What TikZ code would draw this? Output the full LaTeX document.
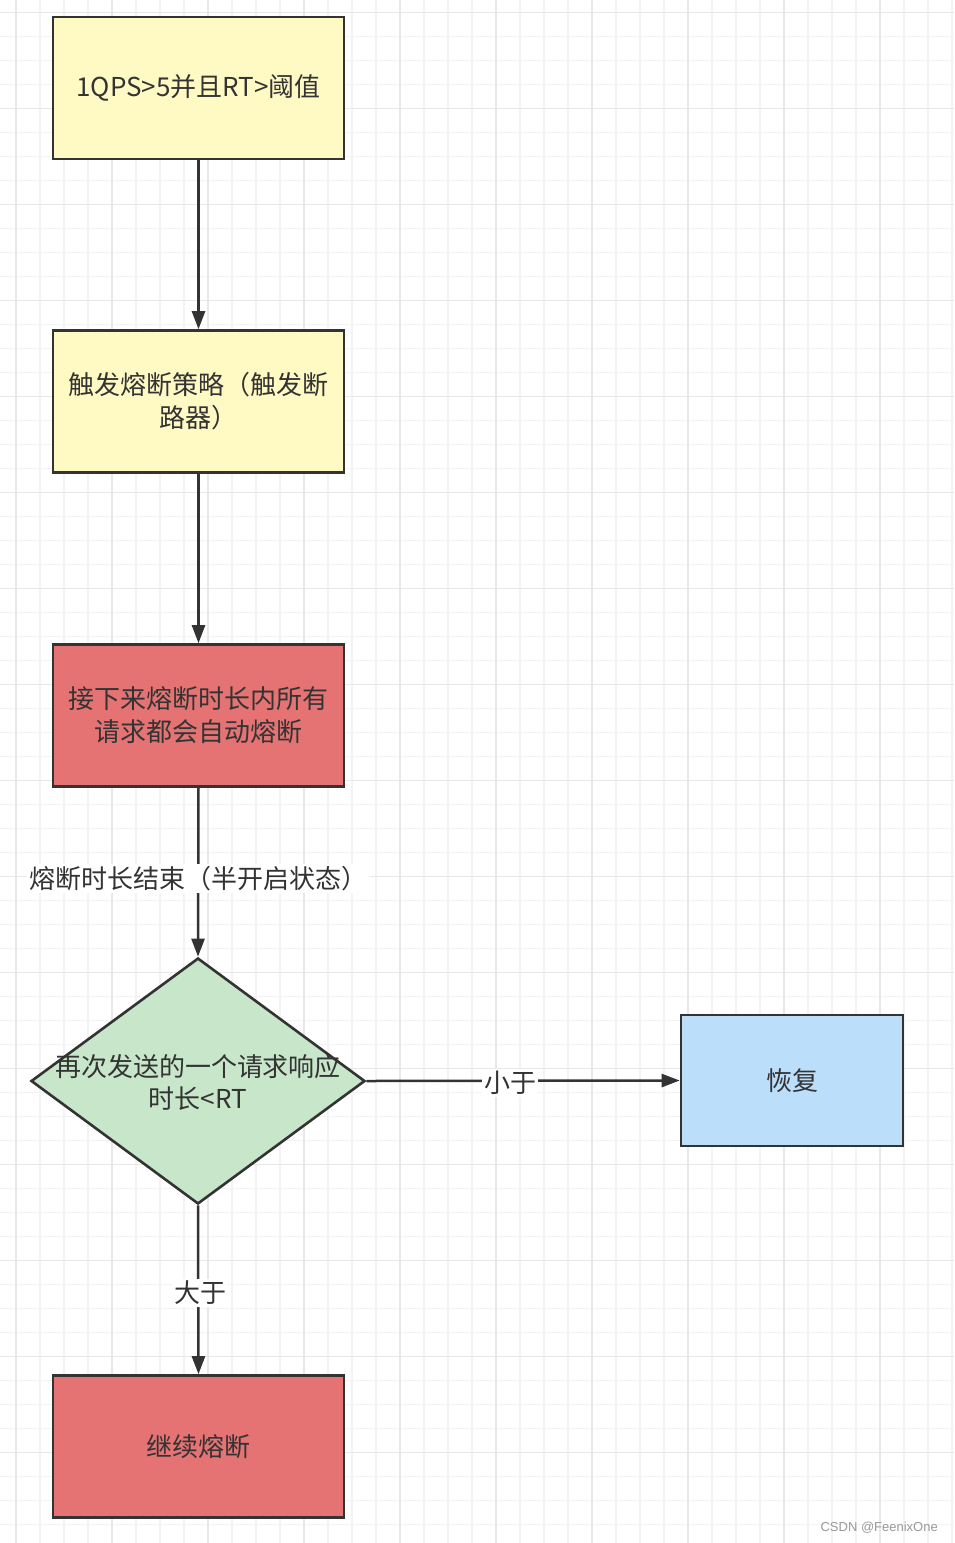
\documentclass[tikz,border=0pt]{standalone}
\usepackage{fontspec}
\setmainfont{Noto Sans CJK SC}
\newfontfamily\wmfont{Liberation Sans}
\usetikzlibrary{shapes.geometric,arrows.meta}
\definecolor{strk}{HTML}{333333}
\definecolor{yel}{HTML}{FFF9C4}
\definecolor{redc}{HTML}{E57373}
\definecolor{grn}{HTML}{C8E6C9}
\definecolor{blu}{HTML}{BBDEFB}
\definecolor{gridl}{HTML}{F3F3F3}
\definecolor{gridd}{HTML}{E8E8E8}
\tikzset{
  gridlight/.style={draw=gridl,line width=1.1pt},
  griddark/.style={draw=gridd,line width=1.5pt},
  boxnode/.style={draw=strk,line width=2.6pt,minimum width=291pt,minimum height=142pt,inner sep=0pt,align=center,text=strk,font=\fontsize{26pt}{33pt}\selectfont},
  dia/.style={draw=strk,fill=grn,line width=2.6pt,diamond,minimum width=334pt,minimum height=246pt,inner sep=0pt},
  txt/.style={align=center,text=strk,font=\fontsize{26pt}{32pt}\selectfont,inner sep=0pt},
  conn/.style={draw=strk,line width=2.5pt,-{Triangle[length=18pt,width=13pt]}},
  lbl/.style={fill=white,text=strk,inner sep=2pt,font=\fontsize{26pt}{33pt}\selectfont}
}
\begin{document}
\begin{tikzpicture}[x=1pt,y=-1pt]
\useasboundingbox (0,0) rectangle (954,1543);
\fill[white] (0,0) rectangle (954,1543);
% grid
\foreach \i in {0,...,39} {
  \pgfmathsetmacro\xx{16+24*\i}
  \draw[gridlight] (\xx,0) -- (\xx,1543);
}
\foreach \i in {0,...,63} {
  \pgfmathsetmacro\yy{12.7+24*\i}
  \draw[gridlight] (0,\yy) -- (954,\yy);
}
\foreach \xx in {16,112,208,304,400,496,592,688,784,880} {
  \draw[griddark] (\xx,0) -- (\xx,1543);
}
\foreach \i in {0,...,15} {
  \pgfmathsetmacro\yy{12.7+96*\i}
  \draw[griddark] (0,\yy) -- (954,\yy);
}
% nodes
\node[boxnode,fill=yel] (b1) at (198.5,88) {1QPS>5并且RT>阈值};
\node[boxnode,fill=yel] (b2) at (198.5,401.5) {触发熔断策略（触发断\\路器）};
\node[boxnode,fill=redc] (b3) at (198.5,715.5) {接下来熔断时长内所有\\请求都会自动熔断};
\node[dia] (d) at (198,1081) {};
\node[txt] (dt) at (198,1082) {再次发送的一个请求响应\\时长<RT};
\node[boxnode,fill=blu,minimum width=222pt,minimum height=131pt] (rec) at (792,1080.5) {恢复};
\node[boxnode,fill=redc] (b4) at (198.5,1446.5) {继续熔断};
% connectors
\draw[conn] (b1.south) -- (b2.north);
\draw[conn] (b2.south) -- (b3.north);
\draw[conn] (b3.south) -- node[lbl,xshift=0pt,yshift=-6pt] (l1) {熔断时长结束（半开启状态）} (d.north);
\draw[conn] (d.east) -- node[lbl,pos=0.46,yshift=-2pt] (l2) {小于} (rec.west);
\draw[conn] (d.south) -- node[lbl,xshift=2pt,yshift=-3pt] (l3) {大于} (b4.north);
% watermark
\node[anchor=east,inner sep=0pt,text=black!40] (wm) at (938,1528) {\wmfont\fontsize{13pt}{15pt}\selectfont CSDN @FeenixOne};
\end{tikzpicture}
\end{document}
